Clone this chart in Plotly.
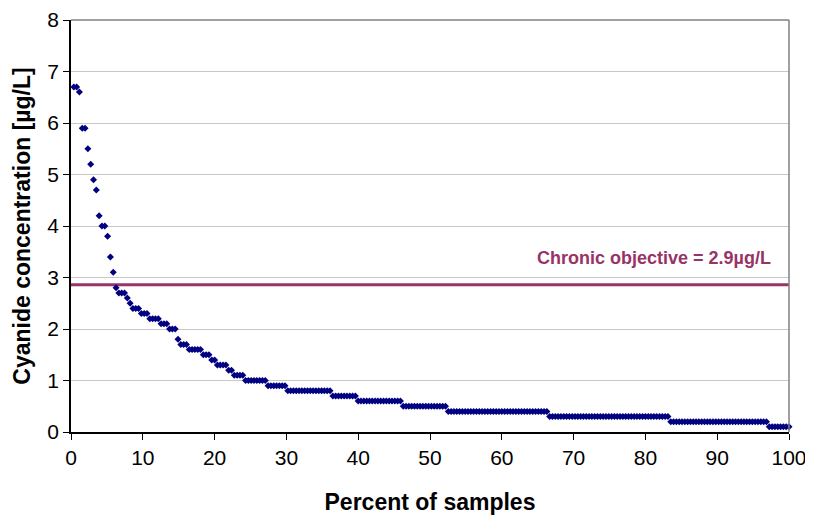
import plotly.graph_objects as go

# Sorted cyanide concentrations (µg/L) as run-lengths: value and number of samples
levels = [6.7, 6.6, 5.9, 5.5, 5.2, 4.9, 4.7, 4.2, 4.0, 3.8, 3.4, 3.1, 2.8, 2.7, 2.6, 2.5,
          2.4, 2.3, 2.2, 2.1, 2.0, 1.8, 1.7, 1.6, 1.5, 1.4, 1.3, 1.2, 1.1, 1.0, 0.9, 0.8,
          0.7, 0.6, 0.5, 0.4, 0.3, 0.2, 0.1]
counts = [2, 1, 2, 1, 1, 1, 1, 1, 2, 1, 1, 1, 1, 3, 1, 1,
          3, 3, 4, 3, 3, 1, 3, 5, 3, 2, 4, 2, 4, 8, 7, 16,
          9, 16, 16, 36, 43, 35, 8]

objective_value = 2.86
objective_label = "Chronic objective = 2.9µg/L"
x_ticks = [0, 10, 20, 30, 40, 50, 60, 70, 80, 90, 100]
y_ticks = [0, 1, 2, 3, 4, 5, 6, 7, 8]

conc = []
for v, c in zip(levels, counts):
    conc.extend([v] * c)
n = len(conc)
pct = [(i + 1) * 100.0 / n for i in range(n)]

FONT = "Liberation Sans, Arial, sans-serif"

fig = go.Figure()
fig.add_trace(go.Scatter(
    x=[0, 100], y=[objective_value, objective_value], mode="lines",
    line=dict(color="#993366", width=3), hoverinfo="skip", showlegend=False))
fig.add_trace(go.Scatter(
    x=pct, y=conc, mode="markers",
    marker=dict(symbol="diamond", size=5.4, color="#000080", line=dict(width=0)),
    showlegend=False, cliponaxis=False))

fig.add_annotation(x=97.8, y=3.38, xref="x", yref="y", text="<b>" + objective_label + "</b>",
                   showarrow=False, xanchor="right", yanchor="middle",
                   font=dict(family=FONT, size=18, color="#993366"))

# top and right plot-area border (gray)
fig.add_shape(type="line", xref="paper", yref="paper", x0=0, x1=1, y0=1, y1=1,
              line=dict(color="#808080", width=1.5))
fig.add_shape(type="line", xref="paper", yref="paper", x0=1, x1=1, y0=0, y1=1,
              line=dict(color="#808080", width=1.5))

fig.update_layout(
    width=805, height=508,
    margin=dict(l=63, r=24, t=12, b=84, autoexpand=False),
    paper_bgcolor="white", plot_bgcolor="white",
    font=dict(family=FONT, color="black"),
)
fig.update_xaxes(
    range=[0, 100], tickvals=x_ticks, ticks="outside", ticklen=6, tickwidth=1,
    tickcolor="black", showline=True, linecolor="black", linewidth=1.5,
    showgrid=False, zeroline=False, tickfont=dict(size=21, family=FONT), automargin=False,
    title=dict(text="<b>Percent of samples</b>", font=dict(size=23, family=FONT), standoff=26),
)
fig.update_yaxes(
    range=[0, 8], tickvals=y_ticks, ticks="outside", ticklen=6, tickwidth=1,
    tickcolor="black", showline=True, linecolor="black", linewidth=1.5,
    showgrid=True, gridcolor="#c8c8c8", gridwidth=1, zeroline=False, automargin=False,
    tickfont=dict(size=21, family=FONT),
    title=dict(text="<b>Cyanide concentration [µg/L]</b>", font=dict(size=23, family=FONT), standoff=10),
)

fig.write_html("out.html")
